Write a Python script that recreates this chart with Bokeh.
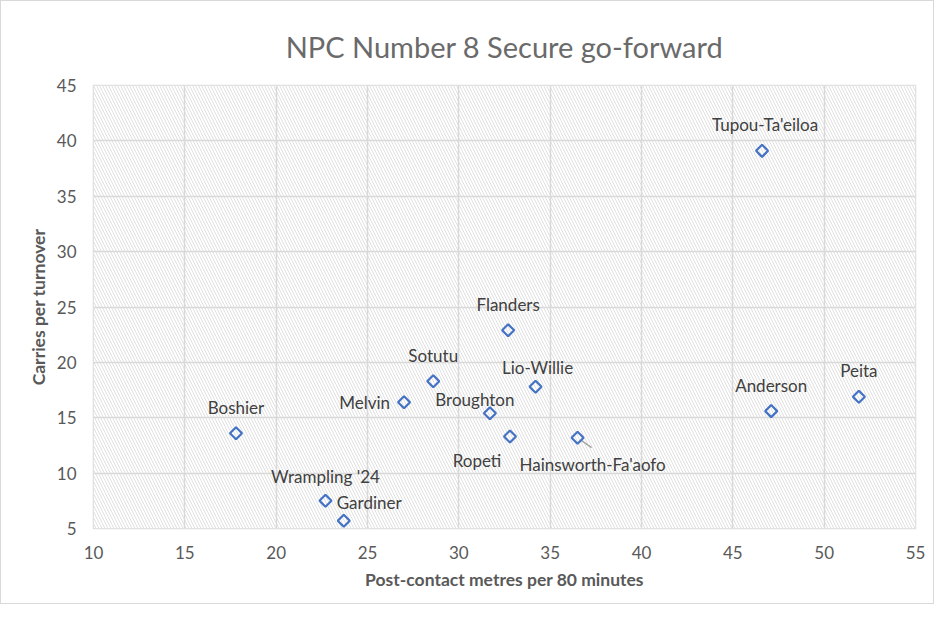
import math
from bokeh.plotting import figure
from bokeh.models import ColumnDataSource, BoxAnnotation, FixedTicker, Title
from bokeh.core.properties import value
from bokeh.embed import file_html
from bokeh.resources import INLINE

# ---- data ----
players = ["Tupou-Ta'eiloa", "Peita", "Anderson", "Flanders", "Sotutu", "Lio-Willie",
           "Melvin", "Broughton", "Ropeti", "Hainsworth-Fa'aofo", "Boshier",
           "Wrampling '24", "Gardiner"]
metres = [46.6, 51.9, 47.1, 32.7, 28.6, 34.2, 27.0, 31.7, 32.8, 36.5, 17.8, 22.7, 23.7]
carries = [39.1, 16.9, 15.6, 22.9, 18.3, 17.8, 16.4, 15.4, 13.3, 13.2, 13.6, 7.5, 5.7]
x_ticks = [10, 15, 20, 25, 30, 35, 40, 45, 50, 55]
y_ticks = [5, 10, 15, 20, 25, 30, 35, 40, 45]
chart_title = "NPC Number 8 Secure go-forward"

# label placement (screen px, y down) - styling only
lab_dx = [3, 0, 0, 0, 0, 2, -14, -15, -33, 15, 0, 0, -7]
lab_dy = [-26, -26, -26, -26, -26, -19, 0, -14, 24, 27, -26, -24, -18]
lab_align = ["center", "center", "center", "center", "center", "center", "right",
             "center", "center", "center", "center", "center", "left"]

FONT = "Lato"
FW, FH = 822, 443
X0, X1 = x_ticks[0], x_ticks[-1]
Y0, Y1 = y_ticks[0], y_ticks[-1]

p = figure(width=932, height=602, frame_width=FW, frame_height=FH,
           x_range=(X0, X1), y_range=(Y0, Y1),
           output_backend="svg", toolbar_location=None,
           min_border_left=92, min_border_right=18, min_border_top=84, min_border_bottom=75)

p.styles = {"border": "1px solid #d9d9d9"}
p.background_fill_color = "white"
p.border_fill_color = "white"
p.outline_line_color = "#d9d9d9"
p.outline_line_width = 1.5

# hatched plot area
p.add_layout(BoxAnnotation(fill_color="white", fill_alpha=1, line_color=None,
                           hatch_pattern="\\", hatch_color="#e0e0e0",
                           hatch_scale=6, hatch_weight=1, level="image"))

title = Title(text=chart_title, align="center",
              text_font=FONT, text_font_size="29px", text_font_style="normal",
              text_color="#6a6a6a", standoff=44)
p.add_layout(title, "above")

for ax in (p.xaxis[0], p.yaxis[0]):
    ax.axis_line_color = None
    ax.major_tick_line_color = None
    ax.minor_tick_line_color = None
    ax.major_label_text_font = FONT
    ax.major_label_text_font_size = "17px"
    ax.major_label_text_color = "#595959"
    ax.axis_label_text_font = FONT
    ax.axis_label_text_font_size = "17.5px"
    ax.axis_label_text_font_style = "bold"
    ax.axis_label_text_color = "#595959"

p.xaxis.ticker = FixedTicker(ticks=x_ticks)
p.yaxis.ticker = FixedTicker(ticks=y_ticks)
p.xaxis.axis_label = "Post-contact metres per 80 minutes"
p.yaxis.axis_label = "Carries per turnover"
p.xaxis.major_label_standoff = 11
p.yaxis.major_label_standoff = 11
p.xaxis.axis_label_standoff = 7
p.yaxis.axis_label_standoff = 5

for g in (p.xgrid[0], p.ygrid[0]):
    g.grid_line_color = "#d9d9d9"
    g.grid_line_width = 1.5
p.xgrid.ticker = FixedTicker(ticks=x_ticks)
p.ygrid.ticker = FixedTicker(ticks=y_ticks)

src = ColumnDataSource(dict(x=metres, y=carries, name=players,
                            dx=lab_dx, dy=lab_dy, align=lab_align))

# leader line for Hainsworth-Fa'aofo (offset from its point, in px converted to data)
px_x = (X1 - X0) / FW
px_y = (Y1 - Y0) / FH
i = players.index("Hainsworth-Fa'aofo")
p.segment(x0=[metres[i] + 4 * px_x], y0=[carries[i] - 3 * px_y],
          x1=[metres[i] + 14 * px_x], y1=[carries[i] - 10 * px_y],
          line_color="#a6a6a6", line_width=1.5)

p.scatter("x", "y", source=src, marker="square", angle=math.pi / 4, size=8.5,
          fill_color=None, line_color="#4472C4", line_width=2.2)

p.text("x", "y", text="name", source=src, x_offset="dx", y_offset="dy",
       text_align="align", text_baseline="middle",
       text_font=value(FONT), text_font_size="17px", text_color="#404040")

open("out.html", "w").write(file_html(p, INLINE))
